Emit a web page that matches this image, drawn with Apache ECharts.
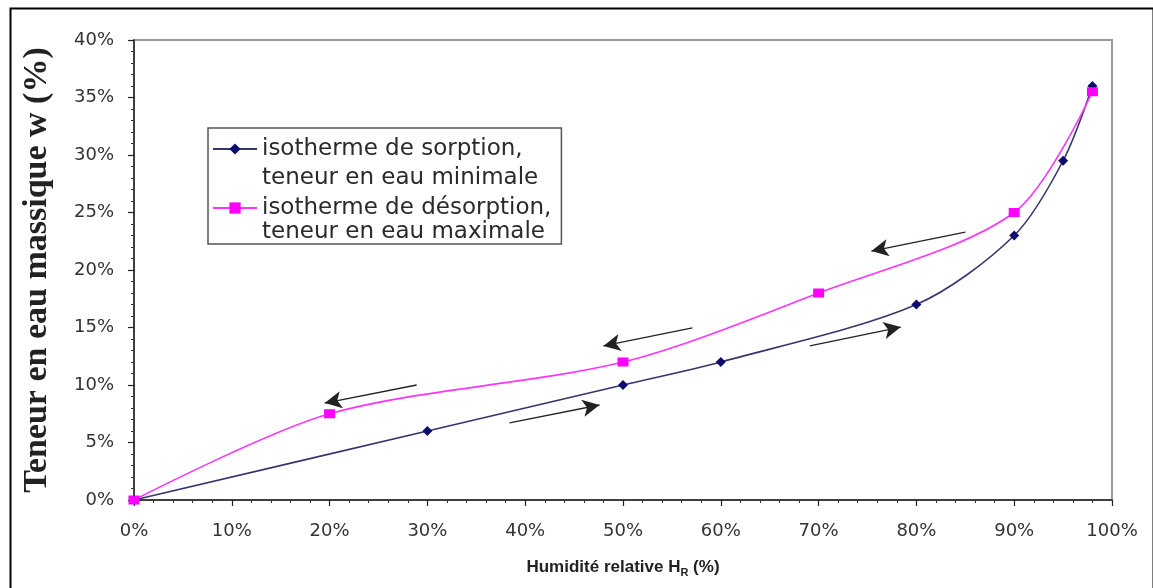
<!DOCTYPE html>
<html>
<head>
<meta charset="utf-8">
<script src="https://cdn.jsdelivr.net/npm/echarts@6/dist/echarts.min.js"></script>
<style>
  html, body { margin: 0; padding: 0; background: #fff; }
  #chart { width: 1153px; height: 588px; }
</style>
</head>
<body>
<div id="chart"></div>
<script>
// Relative humidity (%) and water content (%)
const sorptionHR = [0, 30, 50, 60, 80, 90, 95, 98];
const sorptionW  = [0, 6, 10, 12, 17, 23, 29.5, 36];
const desorptionHR = [0, 20, 50, 70, 90, 98];
const desorptionW  = [0, 7.5, 12, 18, 25, 35.5];

const sorptionName1 = 'isotherme de sorption,';
const sorptionName2 = 'teneur en eau minimale';
const desorptionName1 = 'isotherme de désorption,';
const desorptionName2 = 'teneur en eau maximale';

// Direction arrows (annotation): start and end points in data units
const arrowFrom = [[28.9, 10.0], [38.4, 6.7], [57.1, 14.96], [85.0, 23.3], [69.1, 13.4]];
const arrowTo   = [[19.5, 8.43], [47.6, 8.26], [48.0, 13.4], [75.4, 21.65], [78.4, 15.04]];

const xTicks = { min: 0, max: 100, interval: 10 };
const yTicks = { min: 0, max: 40, interval: 5 };

const pairs = (xs, ys) => xs.map((x, i) => [x, ys[i]]);
const arrowLines = arrowFrom.map((f, i) => [{ coord: f }, { coord: arrowTo[i] }]);

const chart = echarts.init(document.getElementById('chart'), null, { renderer: 'canvas' });

chart.setOption({
  animation: false,
  backgroundColor: '#ffffff',
  graphic: [{
    type: 'rect',
    left: 8, top: 6,
    shape: { width: 1143, height: 600 },
    style: { fill: 'none', stroke: '#000', lineWidth: 2 },
    silent: true, z: 100
  }],
  grid: {
    left: 134, right: 41, top: 40, bottom: 88,
    show: true, borderColor: '#9a9a9a', borderWidth: 2, backgroundColor: '#fff'
  },
  legend: {
    left: 208, top: 128,
    orient: 'vertical',
    itemWidth: 44, itemHeight: 14, itemGap: 0,
    padding: [9, 10, 0, 4],
    borderColor: '#555', borderWidth: 1.5,
    backgroundColor: '#fff',
    selectedMode: false,
    textStyle: { fontFamily: 'DejaVu Sans', fontSize: 23, color: '#2a2a2a', lineHeight: 24 },
    data: [
      { name: sorptionName1 },
      { name: sorptionName2, textStyle: { padding: [0, 0, 11, 0] } },
      { name: desorptionName1 },
      { name: desorptionName2 }
    ]
  },
  xAxis: {
    type: 'value',
    min: xTicks.min, max: xTicks.max, interval: xTicks.interval,
    name: '{t|Humidité relative H}{s|R}{t| (%)}',
    nameLocation: 'middle', nameGap: 57,
    nameTextStyle: {
      rich: {
        t: { fontFamily: 'Liberation Sans', fontWeight: 'bold', fontSize: 17, color: '#222' },
        s: { fontFamily: 'Liberation Sans', fontWeight: 'bold', fontSize: 11, color: '#222', padding: [10, 0, 0, 0] }
      }
    },
    axisLine: { onZero: false, lineStyle: { color: '#222', width: 1.5 } },
    axisTick: { show: true, length: 6, lineStyle: { color: '#222', width: 1.2 } },
    minorTick: { show: true, splitNumber: 5, length: 3, lineStyle: { color: '#333' } },
    splitLine: { show: false },
    axisLabel: { formatter: '{value}%', margin: 22, fontFamily: 'DejaVu Sans', fontSize: 18, color: '#333' }
  },
  yAxis: {
    type: 'value',
    min: yTicks.min, max: yTicks.max, interval: yTicks.interval,
    name: 'Teneur en eau massique w (%)',
    nameLocation: 'middle', nameGap: 80, nameRotate: 90,
    nameTextStyle: { fontFamily: 'Liberation Serif', fontWeight: 'bold', fontSize: 34, color: '#222' },
    axisLine: { onZero: false, lineStyle: { color: '#222', width: 1.5 } },
    axisTick: { show: true, length: 6, lineStyle: { color: '#222', width: 1.2 } },
    minorTick: { show: true, splitNumber: 5, length: 3, lineStyle: { color: '#333' } },
    splitLine: { show: false },
    axisLabel: { formatter: '{value}%', margin: 20, fontFamily: 'DejaVu Sans', fontSize: 18, color: '#333' }
  },
  series: [
    {
      name: sorptionName1,
      type: 'line',
      data: pairs(sorptionHR, sorptionW),
      smooth: 0.3,
      symbol: 'diamond', symbolSize: [10, 10],
      lineStyle: { color: '#36366e', width: 1.6 },
      itemStyle: { color: '#0d0d70' },
      z: 3,
      markLine: {
        silent: true,
        symbol: ['none', 'arrow'],
        symbolSize: [13, 17],
        label: { show: false },
        lineStyle: { color: '#222', width: 1.3, type: 'solid' },
        emphasis: { disabled: true },
        data: arrowLines
      }
    },
    {
      name: sorptionName2,
      type: 'line',
      data: [],
      symbol: 'none',
      lineStyle: { opacity: 0 },
      itemStyle: { opacity: 0 }
    },
    {
      name: desorptionName1,
      type: 'line',
      data: pairs(desorptionHR, desorptionW),
      smooth: 0.3,
      symbol: 'rect', symbolSize: [11, 9],
      lineStyle: { color: '#ff33ff', width: 1.6 },
      itemStyle: { color: '#ff00ff' },
      z: 4
    },
    {
      name: desorptionName2,
      type: 'line',
      data: [],
      symbol: 'none',
      lineStyle: { opacity: 0 },
      itemStyle: { opacity: 0 }
    }
  ]
});
</script>
</body>
</html>
